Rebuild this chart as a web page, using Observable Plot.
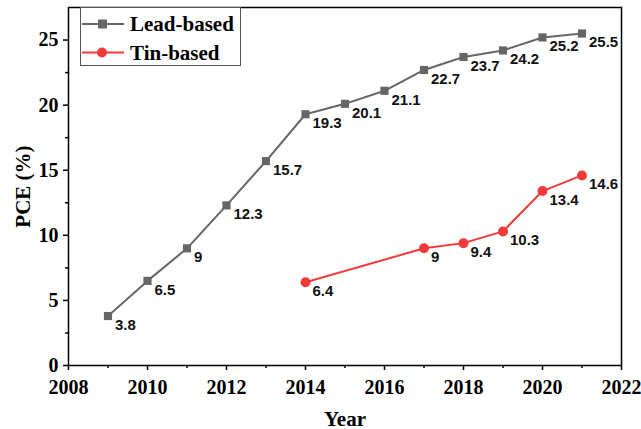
<!DOCTYPE html>
<html>
<head>
<meta charset="utf-8">
<script src="https://cdn.jsdelivr.net/npm/d3@7"></script>
<script src="https://cdn.jsdelivr.net/npm/@observablehq/plot@0.6"></script>
<style>
  html, body { margin: 0; padding: 0; background: #fff; }
  #chart { position: relative; width: 641px; height: 429px; }
</style>
</head>
<body>
<div id="chart"></div>
<script>
// Data
const leadYears = [2009, 2010, 2011, 2012, 2013, 2014, 2015, 2016, 2017, 2018, 2019, 2020, 2021];
const leadPCE   = [3.8, 6.5, 9, 12.3, 15.7, 19.3, 20.1, 21.1, 22.7, 23.7, 24.2, 25.2, 25.5];
const tinYears  = [2014, 2017, 2018, 2019, 2020, 2021];
const tinPCE    = [6.4, 9, 9.4, 10.3, 13.4, 14.6];
const seriesNames = ["Lead-based", "Tin-based"];
const xMajorTicks = [2008, 2010, 2012, 2014, 2016, 2018, 2020, 2022];
const xMinorTicks = [2009, 2011, 2013, 2015, 2017, 2019, 2021];
const yMajorTicks = [0, 5, 10, 15, 20, 25];
const yMinorTicks = [2.5, 7.5, 12.5, 17.5, 22.5];

const lead = leadYears.map((y, i) => ({year: y, pce: leadPCE[i]}));
const tin = tinYears.map((y, i) => ({year: y, pce: tinPCE[i]}));

const GRAY = "#666666";
const RED = "#f23a3a";
const SERIF = "'Liberation Serif', 'Times New Roman', serif";
const SANS = "'Liberation Sans', Arial, sans-serif";

const labelStyle = {fontSize: 15, fontWeight: "bold", fontFamily: SANS, fill: "#111",
  textAnchor: "start", dx: 7, dy: 9};

const plot = Plot.plot({
  width: 641,
  height: 429,
  marginLeft: 68,
  marginRight: 20,
  marginTop: 7,
  marginBottom: 64,
  style: {background: "#fff", fontFamily: SERIF, color: "#000"},
  x: {domain: [2008, 2022]},
  y: {domain: [0, 27.5]},
  marks: [
    Plot.axisX(xMajorTicks, {tickSize: 5, tickPadding: 9, fontSize: 20, fontWeight: "bold",
      fontFamily: SERIF, strokeWidth: 1.5, tickFormat: d => String(d),
      label: "Year", labelAnchor: "center", labelArrow: false, labelOffset: 60}),
    Plot.axisX(xMinorTicks, {tickSize: 3, strokeWidth: 1.5, tickFormat: () => "", label: null}),
    Plot.axisY(yMajorTicks, {tickSize: 5, tickPadding: 5, fontSize: 20, fontWeight: "bold",
      fontFamily: SERIF, strokeWidth: 1.5, tickFormat: d => String(d),
      label: "PCE (%)", labelAnchor: "center", labelArrow: false, labelOffset: 53}),
    Plot.axisY(yMinorTicks, {tickSize: 3, strokeWidth: 1.5, tickFormat: () => "", label: null}),
    Plot.line(lead, {x: "year", y: "pce", stroke: GRAY, strokeWidth: 2}),
    Plot.dot(lead, {x: "year", y: "pce", symbol: "square", r: 4.6, fill: GRAY, stroke: null}),
    Plot.text(lead, {x: "year", y: "pce", text: d => String(d.pce), ...labelStyle}),
    Plot.line(tin, {x: "year", y: "pce", stroke: RED, strokeWidth: 2}),
    Plot.dot(tin, {x: "year", y: "pce", r: 5, fill: RED, stroke: null}),
    Plot.text(tin, {x: "year", y: "pce", text: d => String(d.pce), ...labelStyle}),
    Plot.frame({stroke: "#000", strokeWidth: 1.5})
  ]
});

// axis titles: slightly larger, no arrows
d3.select(plot).selectAll('[aria-label="x-axis label"] text, [aria-label="y-axis label"] text')
  .style("font-size", "21px")
  .each(function() {
    const t = d3.select(this);
    t.text(t.text().replace(/\s*[\u2190-\u2193]\s*/g, "").trim());
  });

// legend box inside the SVG
const svg = d3.select(plot);
const lg = svg.append("g").attr("class", "legend").attr("text-anchor", "start");
lg.append("rect").attr("x", 80.5).attr("y", 7.5).attr("width", 160).attr("height", 58)
  .attr("fill", "#fff").attr("stroke", "#555").attr("stroke-width", 1);
const colors = [GRAY, RED];
seriesNames.forEach((name, i) => {
  const cy = 24 + i * 28.5;
  lg.append("line").attr("x1", 82).attr("x2", 124).attr("y1", cy).attr("y2", cy)
    .attr("stroke", colors[i]).attr("stroke-width", 2);
  if (i === 0) {
    lg.append("rect").attr("x", 98).attr("y", cy - 4.5).attr("width", 9).attr("height", 9)
      .attr("fill", colors[i]);
  } else {
    lg.append("circle").attr("cx", 102).attr("cy", cy).attr("r", 5).attr("fill", colors[i]);
  }
  lg.append("text").attr("x", 130).attr("y", cy).attr("dy", "0.35em")
    .attr("text-anchor", "start")
    .attr("font-family", SERIF).attr("font-weight", "bold").attr("font-size", 21)
    .attr("fill", "#000").text(name);
});

document.getElementById("chart").appendChild(plot);
</script>
</body>
</html>
